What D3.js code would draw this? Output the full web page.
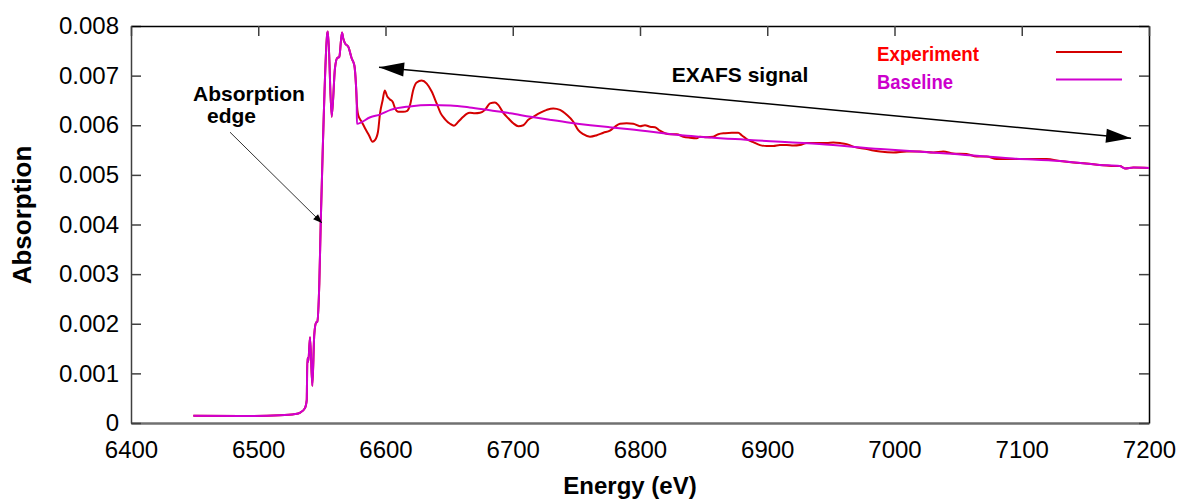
<!DOCTYPE html>
<html lang="en">
<head>
  <meta charset="UTF-8">
  <title>Absorption vs Energy</title>
  <script src="https://cdn.jsdelivr.net/npm/d3@7"></script>
  <style>
    body { margin:0; background:#fff; }
    svg { display:block; font-family:"Liberation Sans", Arial, sans-serif; }
    .tick text { font-size:24px; fill:#000; }
  </style>
</head>
<body>
  <svg id="chart" width="1181" height="499"></svg>
  <script>
  // shared part: pre-edge + edge (baseline follows the data here)
  const edgeE = [6449, 6486, 6517, 6529, 6533, 6536.7, 6538.1, 6538.6, 6539.3, 6540.7, 6542.5, 6544.0,
                 6545.4, 6546.4, 6548.0, 6549.1, 6550.6, 6554.3, 6554.8, 6557.7, 6560.3, 6561.9, 6563.7,
                 6565.8, 6566.8, 6568.2, 6570.8, 6573.4, 6575.5, 6576.8, 6577.4];
  const edgeA = [0.000147, 0.000140, 0.000155, 0.000180, 0.000210, 0.000300, 0.000460, 0.00131, 0.00123,
                 0.00173, 0.00075, 0.00177, 0.00202, 0.00204, 0.00282, 0.00403, 0.00543, 0.00786, 0.00789,
                 0.00617, 0.00715, 0.00735, 0.00738, 0.00787, 0.00775, 0.00765, 0.00758, 0.00735, 0.00721,
                 0.00681, 0.00647];

  // experiment after the edge (EXAFS region)
  const expE = [6578.6, 6581.3, 6583.9, 6587.0, 6589.8, 6591.7, 6594.1, 6595.7, 6597.8, 6599.4, 6601.4,
                6603.5, 6605.7, 6607.5, 6610.1, 6614.0, 6617.1, 6619.3, 6621.8, 6624.5, 6628.4, 6632.4,
                6636.3, 6640.2, 6643.4, 6646.8, 6650.7, 6653.8, 6657.2, 6661.1, 6663.8, 6666.4, 6670.3,
                6674.3, 6678.2, 6682.1, 6686.0, 6688.6, 6692.6, 6696.5, 6700.4, 6704.4, 6708.3, 6712.2,
                6716.1, 6721.4, 6726.7, 6731.9, 6737.1, 6742.4, 6747.6, 6751.5, 6755.4, 6760.7, 6766.0,
                6771.2, 6776.4, 6780.3, 6784.3, 6789.5, 6794.7, 6800.0, 6803.9, 6807.9, 6811.8, 6815.7,
                6819.6, 6823.6, 6828.8, 6834.0, 6839.3, 6844.6, 6847.1, 6852.4, 6857.6, 6861.5, 6866.8,
                6872.1, 6877.2, 6879.9, 6883.8, 6889.0, 6894.3, 6899.6, 6904.8, 6910.0, 6915.3, 6920.5,
                6925.7, 6931.0, 6936.2, 6941.4, 6946.7, 6951.9, 6957.2, 6962.4, 6967.6, 6972.9, 6978.1,
                6983.3, 6988.6, 6999.1, 7009.6, 7020.0, 7030.5, 7038.3, 7046.2, 7056.7, 7064.6, 7072.5,
                7080.3, 7088.2, 7098.6, 7109.1, 7119.6, 7130.1, 7140.5, 7151.0, 7161.5, 7171.9, 7177.2,
                7181.1, 7187.6, 7200];
  const expA = [0.00620, 0.00607, 0.00594, 0.00580, 0.00567, 0.00570, 0.00587, 0.00624, 0.00651, 0.00670,
                0.00658, 0.00652, 0.00647, 0.00634, 0.00627, 0.00627, 0.00629, 0.00641, 0.00671, 0.00686,
                0.00690, 0.00684, 0.00668, 0.00644, 0.00624, 0.00612, 0.00603, 0.00599, 0.00607, 0.00617,
                0.00623, 0.00625, 0.00624, 0.00625, 0.00631, 0.00644, 0.00646, 0.00641, 0.00625, 0.00614,
                0.00604, 0.00598, 0.00600, 0.00611, 0.00617, 0.00625, 0.00631, 0.00634, 0.00631, 0.00621,
                0.00607, 0.00590, 0.00582, 0.00577, 0.00580, 0.00585, 0.00589, 0.00597, 0.00603, 0.00604,
                0.00603, 0.00598, 0.00600, 0.00597, 0.00596, 0.00589, 0.00584, 0.00582, 0.00582, 0.00577,
                0.00575, 0.00574, 0.00577, 0.00576, 0.00577, 0.00582, 0.00584, 0.00585, 0.00585, 0.00580,
                0.00572, 0.00566, 0.00560, 0.00558, 0.00558, 0.00560, 0.00560, 0.00559, 0.00560, 0.00564,
                0.00564, 0.00564, 0.00564, 0.00565, 0.00564, 0.00562, 0.00557, 0.00554, 0.00552, 0.00549,
                0.00547, 0.00545, 0.00547, 0.00547, 0.00545, 0.00547, 0.00543, 0.00542, 0.00537, 0.00537,
                0.00532, 0.00532, 0.00532, 0.00532, 0.00532, 0.00528, 0.00525, 0.00523, 0.00520, 0.00518,
                0.00518, 0.00513, 0.00515, 0.00514];

  // smooth baseline after the edge
  const baseE = [6577.5, 6588, 6596, 6604, 6619, 6635, 6651, 6666, 6682, 6698, 6714, 6729, 6745, 6761,
                 6776, 6792, 6837, 6889, 6941, 6989, 7041, 7093, 7130, 7161, 7177, 7181, 7188, 7200];
  const baseA = [0.00603, 0.00616, 0.00622, 0.00631, 0.00638, 0.00641, 0.00640, 0.00636, 0.00630, 0.00624,
                 0.00617, 0.00611, 0.00605, 0.00600, 0.00596, 0.00592, 0.00579, 0.00570, 0.00562, 0.00552,
                 0.00543, 0.00533, 0.00528, 0.00520, 0.00518, 0.00513, 0.00515, 0.00514];

  const xTicks = [6400, 6500, 6600, 6700, 6800, 6900, 7000, 7100, 7200];
  const yTicks = [0, 0.001, 0.002, 0.003, 0.004, 0.005, 0.006, 0.007, 0.008];
  const seriesNames = ["Experiment", "Baseline"];

  const svg = d3.select("#chart");
  const x = d3.scaleLinear().domain([6400, 7200]).range([131, 1149]);
  const y = d3.scaleLinear().domain([0, 0.008]).range([423, 26]);
  const fmt = d => d === 0 ? "0" : d3.format(".3f")(d);

  const zip = (es, as) => es.map((e, i) => [e, as[i]]);
  const edge = zip(edgeE, edgeA);
  const experiment = edge.concat(zip(expE, expA));
  const baseline = edge.concat(zip(baseE, baseA));

  // axes
  svg.append("g").attr("transform", "translate(0,423)")
    .call(d3.axisBottom(x).tickValues(xTicks).tickSize(0).tickPadding(18).tickFormat(d3.format("d")))
    .call(g => g.select(".domain").attr("stroke", "#707070").attr("stroke-width", 2.5));
  svg.append("g").attr("transform", "translate(131,0)")
    .call(d3.axisLeft(y).tickValues(yTicks).tickSize(-10).tickSizeOuter(0).tickPadding(12).tickFormat(fmt))
    .call(g => g.select(".domain").attr("stroke", "#404040").attr("stroke-width", 1.5))
    .call(g => g.selectAll(".tick line").attr("stroke", "#404040").attr("stroke-width", 1.5));
  svg.append("g").attr("transform", "translate(1149,0)")
    .call(d3.axisRight(y).tickValues(yTicks).tickSize(-10).tickSizeOuter(0).tickFormat(""))
    .call(g => g.select(".domain").attr("stroke", "#000").attr("stroke-width", 1.5))
    .call(g => g.selectAll(".tick line").attr("stroke", "#404040").attr("stroke-width", 1.5));
  svg.append("g").attr("transform", "translate(0,26)")
    .call(d3.axisTop(x).tickValues(xTicks).tickSize(-10).tickSizeOuter(0).tickFormat(""))
    .call(g => g.select(".domain").attr("stroke", "#000").attr("stroke-width", 1.5))
    .call(g => g.selectAll(".tick line").attr("stroke", "#404040").attr("stroke-width", 1.5));

  // axis titles
  svg.append("text").attr("x", 630).attr("y", 494).attr("text-anchor", "middle")
    .attr("font-size", 24).attr("font-weight", "bold").text("Energy (eV)");
  svg.append("text").attr("transform", "translate(31,215) rotate(-90)").attr("text-anchor", "middle")
    .attr("font-size", 26).attr("font-weight", "bold").text("Absorption");

  // curves
  const line = d3.line().x(d => x(d[0])).y(d => y(d[1])).curve(d3.curveMonotoneX);
  svg.append("path").datum(experiment).attr("d", line)
    .attr("fill", "none").attr("stroke", "#d40000").attr("stroke-width", 2).attr("stroke-linejoin", "round");
  svg.append("path").datum(baseline).attr("d", line)
    .attr("fill", "none").attr("stroke", "#d000d0").attr("stroke-width", 2).attr("stroke-linejoin", "round");

  // legend
  const legColors = ["#d40000", "#d000d0"], legText = ["#ff0000", "#cc00cc"];
  seriesNames.forEach((name, i) => {
    const yy = 52 + i * 27.5;
    svg.append("text").attr("x", 877).attr("y", yy + 9).attr("font-size", 21).attr("font-weight", "bold")
      .attr("fill", legText[i]).attr("textLength", i ? 76 : 102).attr("lengthAdjust", "spacingAndGlyphs").text(name);
    svg.append("line").attr("x1", 1056).attr("x2", 1122).attr("y1", yy).attr("y2", yy)
      .attr("stroke", legColors[i]).attr("stroke-width", 2);
  });

  // annotations
  function arrowHead(x1, y1, x2, y2, len, half) {
    const a = Math.atan2(y2 - y1, x2 - x1), c = Math.cos(a), s = Math.sin(a);
    const bx = x2 - len * c, by = y2 - len * s;
    return `M${x2},${y2}L${bx - half * s},${by + half * c}L${bx + half * s},${by - half * c}Z`;
  }
  const ann = svg.append("g");
  ann.append("text").attr("x", x(6448.7)).attr("y", y(0.00649)).attr("font-size", 21).attr("font-weight", "bold").text("Absorption");
  ann.append("text").attr("x", x(6459.7)).attr("y", y(0.00605)).attr("font-size", 21).attr("font-weight", "bold").text("edge");
  ann.append("text").attr("x", x(6825)).attr("y", y(0.00687)).attr("font-size", 21).attr("font-weight", "bold").text("EXAFS signal");

  const e0 = [x(6477.8), y(0.00586)], e1 = [x(6550.1), y(0.00403)];
  ann.append("line").attr("x1", e0[0]).attr("y1", e0[1]).attr("x2", e1[0]).attr("y2", e1[1])
    .attr("stroke", "#333").attr("stroke-width", 1);
  ann.append("path").attr("d", arrowHead(e0[0], e0[1], e1[0], e1[1], 9, 3.5)).attr("fill", "#000");

  const a0 = [x(6594.9), y(0.00717)], a1 = [x(7185.9), y(0.00574)];
  ann.append("line").attr("x1", a0[0]).attr("y1", a0[1]).attr("x2", a1[0]).attr("y2", a1[1])
    .attr("stroke", "#000").attr("stroke-width", 1.5);
  ann.append("path").attr("d", arrowHead(a0[0], a0[1], a1[0], a1[1], 25, 7)).attr("fill", "#000");
  ann.append("path").attr("d", arrowHead(a1[0], a1[1], a0[0], a0[1], 25, 7)).attr("fill", "#000");
  </script>
</body>
</html>
